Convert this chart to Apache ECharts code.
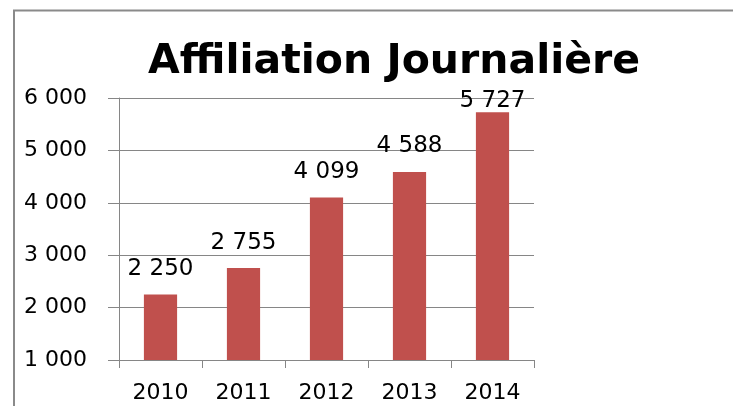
<!DOCTYPE html>
<html><head><meta charset="utf-8">
<script src="https://cdn.jsdelivr.net/npm/echarts@6/dist/echarts.min.js"></script>
<style>html,body{margin:0;padding:0;background:#fff}#c{width:733px;height:406px}</style>
</head><body><div id="c"></div>
<script>
const titleText = 'Affiliation Journalière';
const categories = ['2010', '2011', '2012', '2013', '2014'];
const values = [2250, 2755, 4099, 4588, 5727];
const yTicks = [1000, 2000, 3000, 4000, 5000, 6000];

function fmt(v) {
  const s = String(v);
  return s.length > 3 ? s.slice(0, s.length - 3) + ' ' + s.slice(-3) : s;
}

const yMax = yTicks[yTicks.length - 1];
const barData = values.map(v => (yMax - v < 500 ? {value: v, label: {distance: 0}} : v));

const chart = echarts.init(document.getElementById('c'), null, {renderer: 'canvas'});
chart.setOption({
  animation: false,
  backgroundColor: '#ffffff',
  graphic: [{
    type: 'rect', shape: {x: 14, y: 10.5, width: 900, height: 600},
    style: {fill: 'none', stroke: '#8a8a8a', lineWidth: 2}, z: 100
  }],
  title: {
    text: titleText, left: 389, top: 37, textAlign: 'center',
    textStyle: {fontFamily: 'DejaVu Sans', fontWeight: 'bold', fontSize: 41, color: '#000'}
  },
  grid: {left: 119, right: 199, top: 98, bottom: 46},
  xAxis: {
    type: 'category', data: categories,
    axisLine: {lineStyle: {color: '#868686', width: 1}},
    axisTick: {show: true, length: 8, lineStyle: {color: '#868686'}},
    axisLabel: {color: '#000', fontFamily: 'DejaVu Sans', fontSize: 22, margin: 22}
  },
  yAxis: {
    type: 'value', min: yTicks[0], max: yMax, interval: 1000,
    axisLine: {show: true, lineStyle: {color: '#868686'}},
    axisTick: {show: true, length: 11, lineStyle: {color: '#868686'}},
    splitLine: {lineStyle: {color: '#868686', width: 1}},
    axisLabel: {color: '#000', fontFamily: 'DejaVu Sans', fontSize: 22, margin: 32, formatter: fmt}
  },
  series: [{
    type: 'bar', data: barData, barWidth: '40%',
    itemStyle: {color: '#C0504D'},
    label: {show: true, position: 'top', distance: 14, color: '#000', fontFamily: 'DejaVu Sans', fontSize: 23,
      formatter: p => fmt(p.value)}
  }]
});
</script></body></html>
